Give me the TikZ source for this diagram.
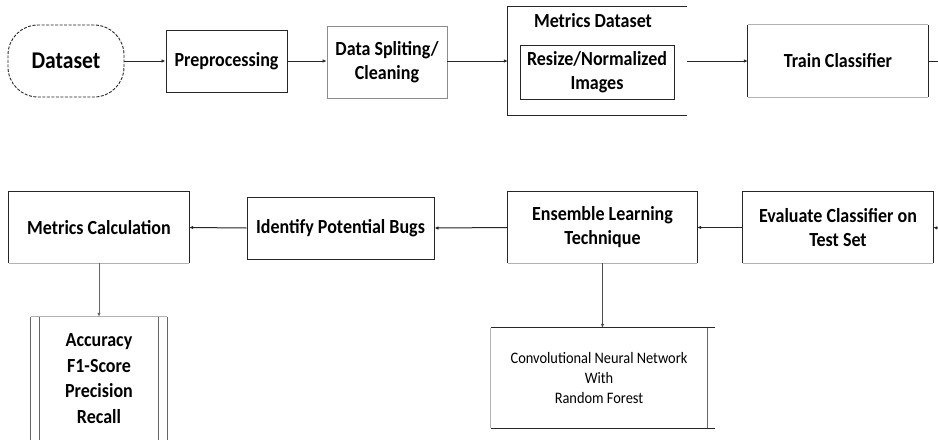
\documentclass[tikz,border=0pt]{standalone}
\usepackage{fontspec}
\setmainfont{Carlito}
\newfontfamily\condfont[FakeStretch=0.9]{Carlito}
\usetikzlibrary{arrows.meta}
\begin{document}
\begin{tikzpicture}[x=1pt,y=-1pt,
  lbl/.style={font=\condfont\fontsize{20}{24}\selectfont\bfseries, align=center, inner sep=0pt},
  ln/.style={draw=black!85, line width=1pt},
  faint/.style={draw=black!30, line width=0.8pt},
  gr/.style={draw=black!60, line width=1pt},
  arr/.style={draw=black!85, line width=1pt, -{Latex[length=4pt,width=3.5pt]}},
]
\useasboundingbox (0,0) rectangle (938,440);
\fill[white] (0,0) rectangle (938,440);

% ---- top row ----
\node[lbl, font=\condfont\fontsize{24}{28}\selectfont\bfseries, draw=black!85, line width=0.9pt, dash pattern=on 3pt off 1.5pt,
      rounded corners=30pt, minimum width=116pt, minimum height=72pt] (ds) at (66,61) {Dataset};
\node[lbl, ln, minimum width=121pt, minimum height=62pt] (pre) at (226.5,61) {Preprocessing};
\node[lbl, draw=black!45, line width=0.8pt, minimum width=120pt, minimum height=72pt] (split) at (387,62) {Data Spliting/\\Cleaning};
\node[inner sep=0pt, minimum width=179pt, minimum height=108pt] (md) at (597.5,61) {};
\draw[ln] (md.north east) -- (md.north west) -- (md.south west) -- (md.south east);
\node[lbl] (mdt) at (593,21) {Metrics Dataset};
\node[lbl, ln, minimum width=154pt, minimum height=54pt] (rs) at (597,72) {Resize/Normalized\\Images};
\node[lbl, minimum width=180pt, minimum height=72pt] (tr) at (838,61) {Train Classifier};
\draw[ln] (tr.north west) -- (tr.south west) (tr.north east) -- (tr.south east);
\draw[faint] (tr.north west) -- (tr.north east) (tr.south west) -- (tr.south east);
\coordinate (e1) at (938,61);
\coordinate (e2) at (938,228);

\draw[arr] (ds.east) -- (pre.west);
\draw[arr] (pre.east) -- (split.west |- pre.east);
\draw[arr] (split.east |- pre.east) -- (md.west);
\draw[arr] (md.east) -- (tr.west);
\draw[ln] (tr.east) -- (e1);

% ---- second row ----
\node[lbl, minimum width=180pt, minimum height=71pt] (mc) at (99,227.5) {Metrics Calculation};
\draw[ln] (mc.south west) -- (mc.north west) -- (mc.north east) -- (mc.south east);
\draw[faint] (mc.south west) -- (mc.south east);
\node[lbl, ln, minimum width=187pt, minimum height=62pt] (bugs) at (340.5,228) {Identify Potential Bugs};
\node[lbl, minimum width=189pt, minimum height=71pt] (ens) at (602.5,227.5) {Ensemble Learning\\Technique};
\draw[ln] (ens.south west) -- (ens.north west) -- (ens.north east) -- (ens.south east);
\draw[faint] (ens.south west) -- (ens.south east);
\node[lbl, minimum width=190pt, minimum height=71pt] (ev) at (838,227.5) {Evaluate Classifier on\\Test Set};
\draw[ln] (ev.south west) -- (ev.north west) -- (ev.north east) -- (ev.south east);
\draw[faint] (ev.south west) -- (ev.south east);

\draw[arr] (e2) -- (ev.east);
\draw[arr] (ev.west) -- (ens.east);
\draw[arr] (ens.west) -- (bugs.east);
\draw[arr] (bugs.west) -- (mc.east);

% ---- bottom ----
\node[lbl, font=\condfont\fontsize{20}{25.5}\selectfont\bfseries, minimum width=136pt, minimum height=123pt] (acc) at (99,378.5)
  {Accuracy\\F1-Score\\Precision\\Recall};
\draw[gr] (acc.north west) -- (acc.south west) (acc.north east) -- (acc.south east);
\draw[gr] ([xshift=9pt]acc.north west) -- ([xshift=9pt]acc.south west)
          ([xshift=-9pt]acc.north east) -- ([xshift=-9pt]acc.south east);
\draw[faint] (acc.north west) -- (acc.north east);
\draw[arr, draw=black!60] (mc.south) -- (acc.north);

\node[inner sep=0pt, align=center, font=\condfont\fontsize{16}{20}\selectfont, minimum width=216pt, minimum height=100pt] (cnn) at (599,378)
  {Convolutional Neural Network\\With\\Random Forest};
\draw[ln] (cnn.north west) -- ([xshift=8pt]cnn.north east) (cnn.south west) -- ([xshift=8pt]cnn.south east);
\draw[faint] (cnn.north west) -- (cnn.south west);
\draw[gr] (cnn.north east) -- (cnn.south east);
\draw[arr, draw=black!70] (ens.south) -- (ens.south |- cnn.north);
\end{tikzpicture}
\end{document}
